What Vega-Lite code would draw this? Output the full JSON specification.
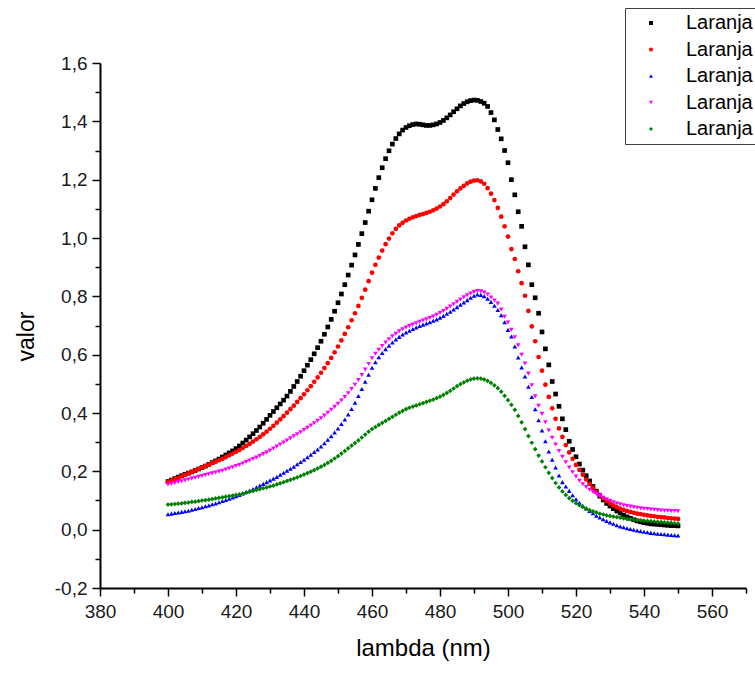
{
"$schema":"https://vega.github.io/schema/vega-lite/v6.json",
"autosize":{"type":"none"},
"width":646,"height":525,
"padding":{"left":100,"top":63,"right":9,"bottom":87},
"background":"white",
"config":{"view":{"stroke":null},"font":"Liberation Sans"},
"data":{"values":[
{"s":"Laranja 1","x":400,"y":0.165},{"s":"Laranja 1","x":401,"y":0.170},{"s":"Laranja 1","x":402,"y":0.175},{"s":"Laranja 1","x":403,"y":0.180},{"s":"Laranja 1","x":404,"y":0.185},{"s":"Laranja 1","x":405,"y":0.190},{"s":"Laranja 1","x":406,"y":0.194},{"s":"Laranja 1","x":407,"y":0.198},{"s":"Laranja 1","x":408,"y":0.203},{"s":"Laranja 1","x":409,"y":0.208},
{"s":"Laranja 1","x":410,"y":0.213},{"s":"Laranja 1","x":411,"y":0.218},{"s":"Laranja 1","x":412,"y":0.224},{"s":"Laranja 1","x":413,"y":0.230},{"s":"Laranja 1","x":414,"y":0.236},{"s":"Laranja 1","x":415,"y":0.242},{"s":"Laranja 1","x":416,"y":0.249},{"s":"Laranja 1","x":417,"y":0.256},{"s":"Laranja 1","x":418,"y":0.263},{"s":"Laranja 1","x":419,"y":0.270},
{"s":"Laranja 1","x":420,"y":0.278},{"s":"Laranja 1","x":421,"y":0.287},{"s":"Laranja 1","x":422,"y":0.297},{"s":"Laranja 1","x":423,"y":0.307},{"s":"Laranja 1","x":424,"y":0.318},{"s":"Laranja 1","x":425,"y":0.329},{"s":"Laranja 1","x":426,"y":0.340},{"s":"Laranja 1","x":427,"y":0.352},{"s":"Laranja 1","x":428,"y":0.365},{"s":"Laranja 1","x":429,"y":0.378},
{"s":"Laranja 1","x":430,"y":0.392},{"s":"Laranja 1","x":431,"y":0.405},{"s":"Laranja 1","x":432,"y":0.418},{"s":"Laranja 1","x":433,"y":0.431},{"s":"Laranja 1","x":434,"y":0.444},{"s":"Laranja 1","x":435,"y":0.458},{"s":"Laranja 1","x":436,"y":0.474},{"s":"Laranja 1","x":437,"y":0.491},{"s":"Laranja 1","x":438,"y":0.508},{"s":"Laranja 1","x":439,"y":0.526},
{"s":"Laranja 1","x":440,"y":0.545},{"s":"Laranja 1","x":441,"y":0.564},{"s":"Laranja 1","x":442,"y":0.583},{"s":"Laranja 1","x":443,"y":0.603},{"s":"Laranja 1","x":444,"y":0.624},{"s":"Laranja 1","x":445,"y":0.646},{"s":"Laranja 1","x":446,"y":0.670},{"s":"Laranja 1","x":447,"y":0.695},{"s":"Laranja 1","x":448,"y":0.721},{"s":"Laranja 1","x":449,"y":0.749},
{"s":"Laranja 1","x":450,"y":0.778},{"s":"Laranja 1","x":451,"y":0.808},{"s":"Laranja 1","x":452,"y":0.840},{"s":"Laranja 1","x":453,"y":0.873},{"s":"Laranja 1","x":454,"y":0.907},{"s":"Laranja 1","x":455,"y":0.942},{"s":"Laranja 1","x":456,"y":0.978},{"s":"Laranja 1","x":457,"y":1.015},{"s":"Laranja 1","x":458,"y":1.053},{"s":"Laranja 1","x":459,"y":1.092},
{"s":"Laranja 1","x":460,"y":1.131},{"s":"Laranja 1","x":461,"y":1.170},{"s":"Laranja 1","x":462,"y":1.207},{"s":"Laranja 1","x":463,"y":1.241},{"s":"Laranja 1","x":464,"y":1.272},{"s":"Laranja 1","x":465,"y":1.299},{"s":"Laranja 1","x":466,"y":1.322},{"s":"Laranja 1","x":467,"y":1.341},{"s":"Laranja 1","x":468,"y":1.357},{"s":"Laranja 1","x":469,"y":1.370},
{"s":"Laranja 1","x":470,"y":1.379},{"s":"Laranja 1","x":471,"y":1.385},{"s":"Laranja 1","x":472,"y":1.389},{"s":"Laranja 1","x":473,"y":1.391},{"s":"Laranja 1","x":474,"y":1.390},{"s":"Laranja 1","x":475,"y":1.388},{"s":"Laranja 1","x":476,"y":1.386},{"s":"Laranja 1","x":477,"y":1.386},{"s":"Laranja 1","x":478,"y":1.388},{"s":"Laranja 1","x":479,"y":1.391},
{"s":"Laranja 1","x":480,"y":1.396},{"s":"Laranja 1","x":481,"y":1.403},{"s":"Laranja 1","x":482,"y":1.412},{"s":"Laranja 1","x":483,"y":1.422},{"s":"Laranja 1","x":484,"y":1.433},{"s":"Laranja 1","x":485,"y":1.443},{"s":"Laranja 1","x":486,"y":1.453},{"s":"Laranja 1","x":487,"y":1.461},{"s":"Laranja 1","x":488,"y":1.467},{"s":"Laranja 1","x":489,"y":1.471},
{"s":"Laranja 1","x":490,"y":1.473},{"s":"Laranja 1","x":491,"y":1.472},{"s":"Laranja 1","x":492,"y":1.468},{"s":"Laranja 1","x":493,"y":1.462},{"s":"Laranja 1","x":494,"y":1.451},{"s":"Laranja 1","x":495,"y":1.430},{"s":"Laranja 1","x":496,"y":1.405},{"s":"Laranja 1","x":497,"y":1.372},{"s":"Laranja 1","x":498,"y":1.340},{"s":"Laranja 1","x":499,"y":1.300},
{"s":"Laranja 1","x":500,"y":1.258},{"s":"Laranja 1","x":501,"y":1.200},{"s":"Laranja 1","x":502,"y":1.148},{"s":"Laranja 1","x":503,"y":1.090},{"s":"Laranja 1","x":504,"y":1.040},{"s":"Laranja 1","x":505,"y":0.970},{"s":"Laranja 1","x":506,"y":0.908},{"s":"Laranja 1","x":507,"y":0.840},{"s":"Laranja 1","x":508,"y":0.795},{"s":"Laranja 1","x":509,"y":0.742},
{"s":"Laranja 1","x":510,"y":0.678},{"s":"Laranja 1","x":511,"y":0.620},{"s":"Laranja 1","x":512,"y":0.565},{"s":"Laranja 1","x":513,"y":0.508},{"s":"Laranja 1","x":514,"y":0.465},{"s":"Laranja 1","x":515,"y":0.423},{"s":"Laranja 1","x":516,"y":0.380},{"s":"Laranja 1","x":517,"y":0.343},{"s":"Laranja 1","x":518,"y":0.303},{"s":"Laranja 1","x":519,"y":0.275},
{"s":"Laranja 1","x":520,"y":0.250},{"s":"Laranja 1","x":521,"y":0.225},{"s":"Laranja 1","x":522,"y":0.204},{"s":"Laranja 1","x":523,"y":0.185},{"s":"Laranja 1","x":524,"y":0.167},{"s":"Laranja 1","x":525,"y":0.148},{"s":"Laranja 1","x":526,"y":0.132},{"s":"Laranja 1","x":527,"y":0.115},{"s":"Laranja 1","x":528,"y":0.102},{"s":"Laranja 1","x":529,"y":0.090},
{"s":"Laranja 1","x":530,"y":0.081},{"s":"Laranja 1","x":531,"y":0.072},{"s":"Laranja 1","x":532,"y":0.064},{"s":"Laranja 1","x":533,"y":0.057},{"s":"Laranja 1","x":534,"y":0.050},{"s":"Laranja 1","x":535,"y":0.044},{"s":"Laranja 1","x":536,"y":0.039},{"s":"Laranja 1","x":537,"y":0.034},{"s":"Laranja 1","x":538,"y":0.030},{"s":"Laranja 1","x":539,"y":0.027},
{"s":"Laranja 1","x":540,"y":0.024},{"s":"Laranja 1","x":541,"y":0.022},{"s":"Laranja 1","x":542,"y":0.020},{"s":"Laranja 1","x":543,"y":0.019},{"s":"Laranja 1","x":544,"y":0.018},{"s":"Laranja 1","x":545,"y":0.017},{"s":"Laranja 1","x":546,"y":0.016},{"s":"Laranja 1","x":547,"y":0.015},{"s":"Laranja 1","x":548,"y":0.014},{"s":"Laranja 1","x":549,"y":0.014},{"s":"Laranja 1","x":550,"y":0.013},
{"s":"Laranja 2","x":400,"y":0.163},{"s":"Laranja 2","x":401,"y":0.168},{"s":"Laranja 2","x":402,"y":0.173},{"s":"Laranja 2","x":403,"y":0.178},{"s":"Laranja 2","x":404,"y":0.183},{"s":"Laranja 2","x":405,"y":0.188},{"s":"Laranja 2","x":406,"y":0.193},{"s":"Laranja 2","x":407,"y":0.198},{"s":"Laranja 2","x":408,"y":0.203},{"s":"Laranja 2","x":409,"y":0.208},
{"s":"Laranja 2","x":410,"y":0.213},{"s":"Laranja 2","x":411,"y":0.218},{"s":"Laranja 2","x":412,"y":0.223},{"s":"Laranja 2","x":413,"y":0.228},{"s":"Laranja 2","x":414,"y":0.233},{"s":"Laranja 2","x":415,"y":0.238},{"s":"Laranja 2","x":416,"y":0.243},{"s":"Laranja 2","x":417,"y":0.249},{"s":"Laranja 2","x":418,"y":0.255},{"s":"Laranja 2","x":419,"y":0.261},
{"s":"Laranja 2","x":420,"y":0.267},{"s":"Laranja 2","x":421,"y":0.273},{"s":"Laranja 2","x":422,"y":0.280},{"s":"Laranja 2","x":423,"y":0.287},{"s":"Laranja 2","x":424,"y":0.294},{"s":"Laranja 2","x":425,"y":0.302},{"s":"Laranja 2","x":426,"y":0.310},{"s":"Laranja 2","x":427,"y":0.318},{"s":"Laranja 2","x":428,"y":0.327},{"s":"Laranja 2","x":429,"y":0.336},
{"s":"Laranja 2","x":430,"y":0.346},{"s":"Laranja 2","x":431,"y":0.356},{"s":"Laranja 2","x":432,"y":0.367},{"s":"Laranja 2","x":433,"y":0.378},{"s":"Laranja 2","x":434,"y":0.389},{"s":"Laranja 2","x":435,"y":0.401},{"s":"Laranja 2","x":436,"y":0.413},{"s":"Laranja 2","x":437,"y":0.425},{"s":"Laranja 2","x":438,"y":0.438},{"s":"Laranja 2","x":439,"y":0.451},
{"s":"Laranja 2","x":440,"y":0.464},{"s":"Laranja 2","x":441,"y":0.478},{"s":"Laranja 2","x":442,"y":0.492},{"s":"Laranja 2","x":443,"y":0.507},{"s":"Laranja 2","x":444,"y":0.522},{"s":"Laranja 2","x":445,"y":0.538},{"s":"Laranja 2","x":446,"y":0.554},{"s":"Laranja 2","x":447,"y":0.571},{"s":"Laranja 2","x":448,"y":0.589},{"s":"Laranja 2","x":449,"y":0.608},
{"s":"Laranja 2","x":450,"y":0.628},{"s":"Laranja 2","x":451,"y":0.649},{"s":"Laranja 2","x":452,"y":0.671},{"s":"Laranja 2","x":453,"y":0.694},{"s":"Laranja 2","x":454,"y":0.718},{"s":"Laranja 2","x":455,"y":0.742},{"s":"Laranja 2","x":456,"y":0.767},{"s":"Laranja 2","x":457,"y":0.795},{"s":"Laranja 2","x":458,"y":0.823},{"s":"Laranja 2","x":459,"y":0.852},
{"s":"Laranja 2","x":460,"y":0.881},{"s":"Laranja 2","x":461,"y":0.908},{"s":"Laranja 2","x":462,"y":0.933},{"s":"Laranja 2","x":463,"y":0.957},{"s":"Laranja 2","x":464,"y":0.979},{"s":"Laranja 2","x":465,"y":0.998},{"s":"Laranja 2","x":466,"y":1.016},{"s":"Laranja 2","x":467,"y":1.031},{"s":"Laranja 2","x":468,"y":1.043},{"s":"Laranja 2","x":469,"y":1.052},
{"s":"Laranja 2","x":470,"y":1.060},{"s":"Laranja 2","x":471,"y":1.066},{"s":"Laranja 2","x":472,"y":1.071},{"s":"Laranja 2","x":473,"y":1.075},{"s":"Laranja 2","x":474,"y":1.079},{"s":"Laranja 2","x":475,"y":1.082},{"s":"Laranja 2","x":476,"y":1.086},{"s":"Laranja 2","x":477,"y":1.090},{"s":"Laranja 2","x":478,"y":1.095},{"s":"Laranja 2","x":479,"y":1.101},
{"s":"Laranja 2","x":480,"y":1.108},{"s":"Laranja 2","x":481,"y":1.116},{"s":"Laranja 2","x":482,"y":1.126},{"s":"Laranja 2","x":483,"y":1.137},{"s":"Laranja 2","x":484,"y":1.149},{"s":"Laranja 2","x":485,"y":1.160},{"s":"Laranja 2","x":486,"y":1.170},{"s":"Laranja 2","x":487,"y":1.179},{"s":"Laranja 2","x":488,"y":1.187},{"s":"Laranja 2","x":489,"y":1.193},
{"s":"Laranja 2","x":490,"y":1.197},{"s":"Laranja 2","x":491,"y":1.198},{"s":"Laranja 2","x":492,"y":1.194},{"s":"Laranja 2","x":493,"y":1.186},{"s":"Laranja 2","x":494,"y":1.171},{"s":"Laranja 2","x":495,"y":1.152},{"s":"Laranja 2","x":496,"y":1.130},{"s":"Laranja 2","x":497,"y":1.103},{"s":"Laranja 2","x":498,"y":1.073},{"s":"Laranja 2","x":499,"y":1.040},
{"s":"Laranja 2","x":500,"y":1.005},{"s":"Laranja 2","x":501,"y":0.962},{"s":"Laranja 2","x":502,"y":0.928},{"s":"Laranja 2","x":503,"y":0.886},{"s":"Laranja 2","x":504,"y":0.845},{"s":"Laranja 2","x":505,"y":0.802},{"s":"Laranja 2","x":506,"y":0.750},{"s":"Laranja 2","x":507,"y":0.697},{"s":"Laranja 2","x":508,"y":0.646},{"s":"Laranja 2","x":509,"y":0.592},
{"s":"Laranja 2","x":510,"y":0.545},{"s":"Laranja 2","x":511,"y":0.497},{"s":"Laranja 2","x":512,"y":0.455},{"s":"Laranja 2","x":513,"y":0.416},{"s":"Laranja 2","x":514,"y":0.380},{"s":"Laranja 2","x":515,"y":0.347},{"s":"Laranja 2","x":516,"y":0.318},{"s":"Laranja 2","x":517,"y":0.290},{"s":"Laranja 2","x":518,"y":0.265},{"s":"Laranja 2","x":519,"y":0.243},
{"s":"Laranja 2","x":520,"y":0.222},{"s":"Laranja 2","x":521,"y":0.205},{"s":"Laranja 2","x":522,"y":0.188},{"s":"Laranja 2","x":523,"y":0.172},{"s":"Laranja 2","x":524,"y":0.157},{"s":"Laranja 2","x":525,"y":0.143},{"s":"Laranja 2","x":526,"y":0.130},{"s":"Laranja 2","x":527,"y":0.119},{"s":"Laranja 2","x":528,"y":0.108},{"s":"Laranja 2","x":529,"y":0.098},
{"s":"Laranja 2","x":530,"y":0.090},{"s":"Laranja 2","x":531,"y":0.083},{"s":"Laranja 2","x":532,"y":0.077},{"s":"Laranja 2","x":533,"y":0.072},{"s":"Laranja 2","x":534,"y":0.068},{"s":"Laranja 2","x":535,"y":0.064},{"s":"Laranja 2","x":536,"y":0.061},{"s":"Laranja 2","x":537,"y":0.058},{"s":"Laranja 2","x":538,"y":0.055},{"s":"Laranja 2","x":539,"y":0.053},
{"s":"Laranja 2","x":540,"y":0.051},{"s":"Laranja 2","x":541,"y":0.049},{"s":"Laranja 2","x":542,"y":0.047},{"s":"Laranja 2","x":543,"y":0.046},{"s":"Laranja 2","x":544,"y":0.044},{"s":"Laranja 2","x":545,"y":0.043},{"s":"Laranja 2","x":546,"y":0.042},{"s":"Laranja 2","x":547,"y":0.040},{"s":"Laranja 2","x":548,"y":0.039},{"s":"Laranja 2","x":549,"y":0.038},{"s":"Laranja 2","x":550,"y":0.037},
{"s":"Laranja 3","x":400,"y":0.053},{"s":"Laranja 3","x":401,"y":0.055},{"s":"Laranja 3","x":402,"y":0.057},{"s":"Laranja 3","x":403,"y":0.059},{"s":"Laranja 3","x":404,"y":0.061},{"s":"Laranja 3","x":405,"y":0.063},{"s":"Laranja 3","x":406,"y":0.065},{"s":"Laranja 3","x":407,"y":0.068},{"s":"Laranja 3","x":408,"y":0.071},{"s":"Laranja 3","x":409,"y":0.074},
{"s":"Laranja 3","x":410,"y":0.077},{"s":"Laranja 3","x":411,"y":0.080},{"s":"Laranja 3","x":412,"y":0.083},{"s":"Laranja 3","x":413,"y":0.087},{"s":"Laranja 3","x":414,"y":0.090},{"s":"Laranja 3","x":415,"y":0.094},{"s":"Laranja 3","x":416,"y":0.098},{"s":"Laranja 3","x":417,"y":0.102},{"s":"Laranja 3","x":418,"y":0.106},{"s":"Laranja 3","x":419,"y":0.110},
{"s":"Laranja 3","x":420,"y":0.115},{"s":"Laranja 3","x":421,"y":0.119},{"s":"Laranja 3","x":422,"y":0.124},{"s":"Laranja 3","x":423,"y":0.129},{"s":"Laranja 3","x":424,"y":0.134},{"s":"Laranja 3","x":425,"y":0.139},{"s":"Laranja 3","x":426,"y":0.145},{"s":"Laranja 3","x":427,"y":0.151},{"s":"Laranja 3","x":428,"y":0.157},{"s":"Laranja 3","x":429,"y":0.163},
{"s":"Laranja 3","x":430,"y":0.169},{"s":"Laranja 3","x":431,"y":0.175},{"s":"Laranja 3","x":432,"y":0.181},{"s":"Laranja 3","x":433,"y":0.188},{"s":"Laranja 3","x":434,"y":0.195},{"s":"Laranja 3","x":435,"y":0.202},{"s":"Laranja 3","x":436,"y":0.209},{"s":"Laranja 3","x":437,"y":0.216},{"s":"Laranja 3","x":438,"y":0.224},{"s":"Laranja 3","x":439,"y":0.232},
{"s":"Laranja 3","x":440,"y":0.240},{"s":"Laranja 3","x":441,"y":0.248},{"s":"Laranja 3","x":442,"y":0.257},{"s":"Laranja 3","x":443,"y":0.266},{"s":"Laranja 3","x":444,"y":0.275},{"s":"Laranja 3","x":445,"y":0.285},{"s":"Laranja 3","x":446,"y":0.296},{"s":"Laranja 3","x":447,"y":0.308},{"s":"Laranja 3","x":448,"y":0.320},{"s":"Laranja 3","x":449,"y":0.333},
{"s":"Laranja 3","x":450,"y":0.347},{"s":"Laranja 3","x":451,"y":0.362},{"s":"Laranja 3","x":452,"y":0.378},{"s":"Laranja 3","x":453,"y":0.395},{"s":"Laranja 3","x":454,"y":0.414},{"s":"Laranja 3","x":455,"y":0.435},{"s":"Laranja 3","x":456,"y":0.458},{"s":"Laranja 3","x":457,"y":0.482},{"s":"Laranja 3","x":458,"y":0.507},{"s":"Laranja 3","x":459,"y":0.531},
{"s":"Laranja 3","x":460,"y":0.555},{"s":"Laranja 3","x":461,"y":0.574},{"s":"Laranja 3","x":462,"y":0.591},{"s":"Laranja 3","x":463,"y":0.606},{"s":"Laranja 3","x":464,"y":0.619},{"s":"Laranja 3","x":465,"y":0.631},{"s":"Laranja 3","x":466,"y":0.642},{"s":"Laranja 3","x":467,"y":0.652},{"s":"Laranja 3","x":468,"y":0.661},{"s":"Laranja 3","x":469,"y":0.669},
{"s":"Laranja 3","x":470,"y":0.676},{"s":"Laranja 3","x":471,"y":0.682},{"s":"Laranja 3","x":472,"y":0.688},{"s":"Laranja 3","x":473,"y":0.693},{"s":"Laranja 3","x":474,"y":0.698},{"s":"Laranja 3","x":475,"y":0.703},{"s":"Laranja 3","x":476,"y":0.707},{"s":"Laranja 3","x":477,"y":0.711},{"s":"Laranja 3","x":478,"y":0.716},{"s":"Laranja 3","x":479,"y":0.721},
{"s":"Laranja 3","x":480,"y":0.727},{"s":"Laranja 3","x":481,"y":0.733},{"s":"Laranja 3","x":482,"y":0.740},{"s":"Laranja 3","x":483,"y":0.747},{"s":"Laranja 3","x":484,"y":0.755},{"s":"Laranja 3","x":485,"y":0.763},{"s":"Laranja 3","x":486,"y":0.771},{"s":"Laranja 3","x":487,"y":0.779},{"s":"Laranja 3","x":488,"y":0.787},{"s":"Laranja 3","x":489,"y":0.795},
{"s":"Laranja 3","x":490,"y":0.802},{"s":"Laranja 3","x":491,"y":0.806},{"s":"Laranja 3","x":492,"y":0.805},{"s":"Laranja 3","x":493,"y":0.800},{"s":"Laranja 3","x":494,"y":0.792},{"s":"Laranja 3","x":495,"y":0.781},{"s":"Laranja 3","x":496,"y":0.768},{"s":"Laranja 3","x":497,"y":0.753},{"s":"Laranja 3","x":498,"y":0.735},{"s":"Laranja 3","x":499,"y":0.711},
{"s":"Laranja 3","x":500,"y":0.685},{"s":"Laranja 3","x":501,"y":0.662},{"s":"Laranja 3","x":502,"y":0.628},{"s":"Laranja 3","x":503,"y":0.590},{"s":"Laranja 3","x":504,"y":0.556},{"s":"Laranja 3","x":505,"y":0.525},{"s":"Laranja 3","x":506,"y":0.490},{"s":"Laranja 3","x":507,"y":0.455},{"s":"Laranja 3","x":508,"y":0.413},{"s":"Laranja 3","x":509,"y":0.375},
{"s":"Laranja 3","x":510,"y":0.340},{"s":"Laranja 3","x":511,"y":0.303},{"s":"Laranja 3","x":512,"y":0.268},{"s":"Laranja 3","x":513,"y":0.240},{"s":"Laranja 3","x":514,"y":0.213},{"s":"Laranja 3","x":515,"y":0.186},{"s":"Laranja 3","x":516,"y":0.163},{"s":"Laranja 3","x":517,"y":0.148},{"s":"Laranja 3","x":518,"y":0.133},{"s":"Laranja 3","x":519,"y":0.118},
{"s":"Laranja 3","x":520,"y":0.104},{"s":"Laranja 3","x":521,"y":0.092},{"s":"Laranja 3","x":522,"y":0.082},{"s":"Laranja 3","x":523,"y":0.073},{"s":"Laranja 3","x":524,"y":0.064},{"s":"Laranja 3","x":525,"y":0.056},{"s":"Laranja 3","x":526,"y":0.048},{"s":"Laranja 3","x":527,"y":0.042},{"s":"Laranja 3","x":528,"y":0.036},{"s":"Laranja 3","x":529,"y":0.030},
{"s":"Laranja 3","x":530,"y":0.025},{"s":"Laranja 3","x":531,"y":0.020},{"s":"Laranja 3","x":532,"y":0.015},{"s":"Laranja 3","x":533,"y":0.011},{"s":"Laranja 3","x":534,"y":0.008},{"s":"Laranja 3","x":535,"y":0.005},{"s":"Laranja 3","x":536,"y":0.002},{"s":"Laranja 3","x":537,"y":0.000},{"s":"Laranja 3","x":538,"y":-0.003},{"s":"Laranja 3","x":539,"y":-0.005},
{"s":"Laranja 3","x":540,"y":-0.007},{"s":"Laranja 3","x":541,"y":-0.009},{"s":"Laranja 3","x":542,"y":-0.011},{"s":"Laranja 3","x":543,"y":-0.012},{"s":"Laranja 3","x":544,"y":-0.014},{"s":"Laranja 3","x":545,"y":-0.015},{"s":"Laranja 3","x":546,"y":-0.016},{"s":"Laranja 3","x":547,"y":-0.017},{"s":"Laranja 3","x":548,"y":-0.018},{"s":"Laranja 3","x":549,"y":-0.019},{"s":"Laranja 3","x":550,"y":-0.020},
{"s":"Laranja 4","x":400,"y":0.155},{"s":"Laranja 4","x":401,"y":0.157},{"s":"Laranja 4","x":402,"y":0.160},{"s":"Laranja 4","x":403,"y":0.163},{"s":"Laranja 4","x":404,"y":0.166},{"s":"Laranja 4","x":405,"y":0.169},{"s":"Laranja 4","x":406,"y":0.172},{"s":"Laranja 4","x":407,"y":0.175},{"s":"Laranja 4","x":408,"y":0.178},{"s":"Laranja 4","x":409,"y":0.181},
{"s":"Laranja 4","x":410,"y":0.184},{"s":"Laranja 4","x":411,"y":0.187},{"s":"Laranja 4","x":412,"y":0.190},{"s":"Laranja 4","x":413,"y":0.193},{"s":"Laranja 4","x":414,"y":0.196},{"s":"Laranja 4","x":415,"y":0.199},{"s":"Laranja 4","x":416,"y":0.202},{"s":"Laranja 4","x":417,"y":0.206},{"s":"Laranja 4","x":418,"y":0.210},{"s":"Laranja 4","x":419,"y":0.214},
{"s":"Laranja 4","x":420,"y":0.218},{"s":"Laranja 4","x":421,"y":0.222},{"s":"Laranja 4","x":422,"y":0.227},{"s":"Laranja 4","x":423,"y":0.232},{"s":"Laranja 4","x":424,"y":0.237},{"s":"Laranja 4","x":425,"y":0.242},{"s":"Laranja 4","x":426,"y":0.247},{"s":"Laranja 4","x":427,"y":0.253},{"s":"Laranja 4","x":428,"y":0.259},{"s":"Laranja 4","x":429,"y":0.265},
{"s":"Laranja 4","x":430,"y":0.271},{"s":"Laranja 4","x":431,"y":0.278},{"s":"Laranja 4","x":432,"y":0.285},{"s":"Laranja 4","x":433,"y":0.292},{"s":"Laranja 4","x":434,"y":0.299},{"s":"Laranja 4","x":435,"y":0.306},{"s":"Laranja 4","x":436,"y":0.313},{"s":"Laranja 4","x":437,"y":0.320},{"s":"Laranja 4","x":438,"y":0.327},{"s":"Laranja 4","x":439,"y":0.334},
{"s":"Laranja 4","x":440,"y":0.342},{"s":"Laranja 4","x":441,"y":0.349},{"s":"Laranja 4","x":442,"y":0.357},{"s":"Laranja 4","x":443,"y":0.365},{"s":"Laranja 4","x":444,"y":0.373},{"s":"Laranja 4","x":445,"y":0.382},{"s":"Laranja 4","x":446,"y":0.391},{"s":"Laranja 4","x":447,"y":0.401},{"s":"Laranja 4","x":448,"y":0.411},{"s":"Laranja 4","x":449,"y":0.421},
{"s":"Laranja 4","x":450,"y":0.432},{"s":"Laranja 4","x":451,"y":0.443},{"s":"Laranja 4","x":452,"y":0.455},{"s":"Laranja 4","x":453,"y":0.468},{"s":"Laranja 4","x":454,"y":0.482},{"s":"Laranja 4","x":455,"y":0.497},{"s":"Laranja 4","x":456,"y":0.513},{"s":"Laranja 4","x":457,"y":0.530},{"s":"Laranja 4","x":458,"y":0.549},{"s":"Laranja 4","x":459,"y":0.568},
{"s":"Laranja 4","x":460,"y":0.588},{"s":"Laranja 4","x":461,"y":0.603},{"s":"Laranja 4","x":462,"y":0.617},{"s":"Laranja 4","x":463,"y":0.630},{"s":"Laranja 4","x":464,"y":0.642},{"s":"Laranja 4","x":465,"y":0.653},{"s":"Laranja 4","x":466,"y":0.663},{"s":"Laranja 4","x":467,"y":0.672},{"s":"Laranja 4","x":468,"y":0.680},{"s":"Laranja 4","x":469,"y":0.687},
{"s":"Laranja 4","x":470,"y":0.693},{"s":"Laranja 4","x":471,"y":0.698},{"s":"Laranja 4","x":472,"y":0.703},{"s":"Laranja 4","x":473,"y":0.708},{"s":"Laranja 4","x":474,"y":0.713},{"s":"Laranja 4","x":475,"y":0.717},{"s":"Laranja 4","x":476,"y":0.721},{"s":"Laranja 4","x":477,"y":0.726},{"s":"Laranja 4","x":478,"y":0.731},{"s":"Laranja 4","x":479,"y":0.737},
{"s":"Laranja 4","x":480,"y":0.743},{"s":"Laranja 4","x":481,"y":0.750},{"s":"Laranja 4","x":482,"y":0.757},{"s":"Laranja 4","x":483,"y":0.765},{"s":"Laranja 4","x":484,"y":0.773},{"s":"Laranja 4","x":485,"y":0.781},{"s":"Laranja 4","x":486,"y":0.789},{"s":"Laranja 4","x":487,"y":0.797},{"s":"Laranja 4","x":488,"y":0.804},{"s":"Laranja 4","x":489,"y":0.810},
{"s":"Laranja 4","x":490,"y":0.815},{"s":"Laranja 4","x":491,"y":0.818},{"s":"Laranja 4","x":492,"y":0.817},{"s":"Laranja 4","x":493,"y":0.813},{"s":"Laranja 4","x":494,"y":0.806},{"s":"Laranja 4","x":495,"y":0.796},{"s":"Laranja 4","x":496,"y":0.786},{"s":"Laranja 4","x":497,"y":0.775},{"s":"Laranja 4","x":498,"y":0.755},{"s":"Laranja 4","x":499,"y":0.730},
{"s":"Laranja 4","x":500,"y":0.710},{"s":"Laranja 4","x":501,"y":0.685},{"s":"Laranja 4","x":502,"y":0.660},{"s":"Laranja 4","x":503,"y":0.632},{"s":"Laranja 4","x":504,"y":0.600},{"s":"Laranja 4","x":505,"y":0.570},{"s":"Laranja 4","x":506,"y":0.535},{"s":"Laranja 4","x":507,"y":0.495},{"s":"Laranja 4","x":508,"y":0.457},{"s":"Laranja 4","x":509,"y":0.425},
{"s":"Laranja 4","x":510,"y":0.397},{"s":"Laranja 4","x":511,"y":0.368},{"s":"Laranja 4","x":512,"y":0.340},{"s":"Laranja 4","x":513,"y":0.315},{"s":"Laranja 4","x":514,"y":0.292},{"s":"Laranja 4","x":515,"y":0.270},{"s":"Laranja 4","x":516,"y":0.250},{"s":"Laranja 4","x":517,"y":0.231},{"s":"Laranja 4","x":518,"y":0.213},{"s":"Laranja 4","x":519,"y":0.197},
{"s":"Laranja 4","x":520,"y":0.182},{"s":"Laranja 4","x":521,"y":0.168},{"s":"Laranja 4","x":522,"y":0.156},{"s":"Laranja 4","x":523,"y":0.146},{"s":"Laranja 4","x":524,"y":0.137},{"s":"Laranja 4","x":525,"y":0.129},{"s":"Laranja 4","x":526,"y":0.122},{"s":"Laranja 4","x":527,"y":0.115},{"s":"Laranja 4","x":528,"y":0.109},{"s":"Laranja 4","x":529,"y":0.104},
{"s":"Laranja 4","x":530,"y":0.099},{"s":"Laranja 4","x":531,"y":0.094},{"s":"Laranja 4","x":532,"y":0.090},{"s":"Laranja 4","x":533,"y":0.087},{"s":"Laranja 4","x":534,"y":0.084},{"s":"Laranja 4","x":535,"y":0.081},{"s":"Laranja 4","x":536,"y":0.079},{"s":"Laranja 4","x":537,"y":0.077},{"s":"Laranja 4","x":538,"y":0.075},{"s":"Laranja 4","x":539,"y":0.073},
{"s":"Laranja 4","x":540,"y":0.072},{"s":"Laranja 4","x":541,"y":0.071},{"s":"Laranja 4","x":542,"y":0.069},{"s":"Laranja 4","x":543,"y":0.068},{"s":"Laranja 4","x":544,"y":0.067},{"s":"Laranja 4","x":545,"y":0.066},{"s":"Laranja 4","x":546,"y":0.065},{"s":"Laranja 4","x":547,"y":0.065},{"s":"Laranja 4","x":548,"y":0.064},{"s":"Laranja 4","x":549,"y":0.064},{"s":"Laranja 4","x":550,"y":0.063},
{"s":"Laranja 5","x":400,"y":0.086},{"s":"Laranja 5","x":401,"y":0.087},{"s":"Laranja 5","x":402,"y":0.088},{"s":"Laranja 5","x":403,"y":0.089},{"s":"Laranja 5","x":404,"y":0.090},{"s":"Laranja 5","x":405,"y":0.092},{"s":"Laranja 5","x":406,"y":0.093},{"s":"Laranja 5","x":407,"y":0.095},{"s":"Laranja 5","x":408,"y":0.096},{"s":"Laranja 5","x":409,"y":0.098},
{"s":"Laranja 5","x":410,"y":0.100},{"s":"Laranja 5","x":411,"y":0.101},{"s":"Laranja 5","x":412,"y":0.103},{"s":"Laranja 5","x":413,"y":0.105},{"s":"Laranja 5","x":414,"y":0.107},{"s":"Laranja 5","x":415,"y":0.109},{"s":"Laranja 5","x":416,"y":0.111},{"s":"Laranja 5","x":417,"y":0.113},{"s":"Laranja 5","x":418,"y":0.115},{"s":"Laranja 5","x":419,"y":0.117},
{"s":"Laranja 5","x":420,"y":0.119},{"s":"Laranja 5","x":421,"y":0.121},{"s":"Laranja 5","x":422,"y":0.124},{"s":"Laranja 5","x":423,"y":0.127},{"s":"Laranja 5","x":424,"y":0.130},{"s":"Laranja 5","x":425,"y":0.133},{"s":"Laranja 5","x":426,"y":0.136},{"s":"Laranja 5","x":427,"y":0.139},{"s":"Laranja 5","x":428,"y":0.142},{"s":"Laranja 5","x":429,"y":0.145},
{"s":"Laranja 5","x":430,"y":0.148},{"s":"Laranja 5","x":431,"y":0.151},{"s":"Laranja 5","x":432,"y":0.155},{"s":"Laranja 5","x":433,"y":0.159},{"s":"Laranja 5","x":434,"y":0.163},{"s":"Laranja 5","x":435,"y":0.167},{"s":"Laranja 5","x":436,"y":0.171},{"s":"Laranja 5","x":437,"y":0.175},{"s":"Laranja 5","x":438,"y":0.179},{"s":"Laranja 5","x":439,"y":0.184},
{"s":"Laranja 5","x":440,"y":0.189},{"s":"Laranja 5","x":441,"y":0.194},{"s":"Laranja 5","x":442,"y":0.199},{"s":"Laranja 5","x":443,"y":0.204},{"s":"Laranja 5","x":444,"y":0.210},{"s":"Laranja 5","x":445,"y":0.216},{"s":"Laranja 5","x":446,"y":0.222},{"s":"Laranja 5","x":447,"y":0.229},{"s":"Laranja 5","x":448,"y":0.236},{"s":"Laranja 5","x":449,"y":0.244},
{"s":"Laranja 5","x":450,"y":0.252},{"s":"Laranja 5","x":451,"y":0.261},{"s":"Laranja 5","x":452,"y":0.270},{"s":"Laranja 5","x":453,"y":0.279},{"s":"Laranja 5","x":454,"y":0.288},{"s":"Laranja 5","x":455,"y":0.297},{"s":"Laranja 5","x":456,"y":0.306},{"s":"Laranja 5","x":457,"y":0.316},{"s":"Laranja 5","x":458,"y":0.326},{"s":"Laranja 5","x":459,"y":0.336},
{"s":"Laranja 5","x":460,"y":0.345},{"s":"Laranja 5","x":461,"y":0.352},{"s":"Laranja 5","x":462,"y":0.359},{"s":"Laranja 5","x":463,"y":0.366},{"s":"Laranja 5","x":464,"y":0.373},{"s":"Laranja 5","x":465,"y":0.380},{"s":"Laranja 5","x":466,"y":0.387},{"s":"Laranja 5","x":467,"y":0.394},{"s":"Laranja 5","x":468,"y":0.401},{"s":"Laranja 5","x":469,"y":0.407},
{"s":"Laranja 5","x":470,"y":0.413},{"s":"Laranja 5","x":471,"y":0.418},{"s":"Laranja 5","x":472,"y":0.422},{"s":"Laranja 5","x":473,"y":0.426},{"s":"Laranja 5","x":474,"y":0.430},{"s":"Laranja 5","x":475,"y":0.434},{"s":"Laranja 5","x":476,"y":0.438},{"s":"Laranja 5","x":477,"y":0.442},{"s":"Laranja 5","x":478,"y":0.446},{"s":"Laranja 5","x":479,"y":0.451},
{"s":"Laranja 5","x":480,"y":0.456},{"s":"Laranja 5","x":481,"y":0.462},{"s":"Laranja 5","x":482,"y":0.469},{"s":"Laranja 5","x":483,"y":0.476},{"s":"Laranja 5","x":484,"y":0.484},{"s":"Laranja 5","x":485,"y":0.492},{"s":"Laranja 5","x":486,"y":0.499},{"s":"Laranja 5","x":487,"y":0.505},{"s":"Laranja 5","x":488,"y":0.511},{"s":"Laranja 5","x":489,"y":0.515},
{"s":"Laranja 5","x":490,"y":0.518},{"s":"Laranja 5","x":491,"y":0.519},{"s":"Laranja 5","x":492,"y":0.518},{"s":"Laranja 5","x":493,"y":0.515},{"s":"Laranja 5","x":494,"y":0.510},{"s":"Laranja 5","x":495,"y":0.503},{"s":"Laranja 5","x":496,"y":0.495},{"s":"Laranja 5","x":497,"y":0.485},{"s":"Laranja 5","x":498,"y":0.473},{"s":"Laranja 5","x":499,"y":0.459},
{"s":"Laranja 5","x":500,"y":0.444},{"s":"Laranja 5","x":501,"y":0.428},{"s":"Laranja 5","x":502,"y":0.411},{"s":"Laranja 5","x":503,"y":0.390},{"s":"Laranja 5","x":504,"y":0.368},{"s":"Laranja 5","x":505,"y":0.345},{"s":"Laranja 5","x":506,"y":0.321},{"s":"Laranja 5","x":507,"y":0.298},{"s":"Laranja 5","x":508,"y":0.276},{"s":"Laranja 5","x":509,"y":0.254},
{"s":"Laranja 5","x":510,"y":0.234},{"s":"Laranja 5","x":511,"y":0.214},{"s":"Laranja 5","x":512,"y":0.195},{"s":"Laranja 5","x":513,"y":0.177},{"s":"Laranja 5","x":514,"y":0.160},{"s":"Laranja 5","x":515,"y":0.145},{"s":"Laranja 5","x":516,"y":0.131},{"s":"Laranja 5","x":517,"y":0.119},{"s":"Laranja 5","x":518,"y":0.108},{"s":"Laranja 5","x":519,"y":0.099},
{"s":"Laranja 5","x":520,"y":0.091},{"s":"Laranja 5","x":521,"y":0.084},{"s":"Laranja 5","x":522,"y":0.078},{"s":"Laranja 5","x":523,"y":0.072},{"s":"Laranja 5","x":524,"y":0.067},{"s":"Laranja 5","x":525,"y":0.063},{"s":"Laranja 5","x":526,"y":0.059},{"s":"Laranja 5","x":527,"y":0.055},{"s":"Laranja 5","x":528,"y":0.052},{"s":"Laranja 5","x":529,"y":0.049},
{"s":"Laranja 5","x":530,"y":0.047},{"s":"Laranja 5","x":531,"y":0.045},{"s":"Laranja 5","x":532,"y":0.043},{"s":"Laranja 5","x":533,"y":0.041},{"s":"Laranja 5","x":534,"y":0.039},{"s":"Laranja 5","x":535,"y":0.037},{"s":"Laranja 5","x":536,"y":0.036},{"s":"Laranja 5","x":537,"y":0.034},{"s":"Laranja 5","x":538,"y":0.033},{"s":"Laranja 5","x":539,"y":0.032},
{"s":"Laranja 5","x":540,"y":0.031},{"s":"Laranja 5","x":541,"y":0.030},{"s":"Laranja 5","x":542,"y":0.029},{"s":"Laranja 5","x":543,"y":0.028},{"s":"Laranja 5","x":544,"y":0.027},{"s":"Laranja 5","x":545,"y":0.026},{"s":"Laranja 5","x":546,"y":0.025},{"s":"Laranja 5","x":547,"y":0.024},{"s":"Laranja 5","x":548,"y":0.023},{"s":"Laranja 5","x":549,"y":0.022},{"s":"Laranja 5","x":550,"y":0.021}
]},
"mark":{"type":"point","filled":true,"size":22,"opacity":1},
"encoding":{
"x":{"field":"x","type":"quantitative","scale":{"domain":[380,570],"nice":false,"zero":false},
 "axis":{"title":"lambda (nm)","values":[380,390,400,410,420,430,440,450,460,470,480,490,500,510,520,530,540,550,560,570],
  "labelExpr":"datum.value % 20 === 0 ? datum.label : ''","grid":false,"labelFlush":false,"labelOverlap":false,
  "domainColor":"black","domainWidth":2,"tickColor":"black","tickWidth":1.5,
  "tickSize":{"condition":{"test":"datum.value % 20 === 0","value":8},"value":5},
  "labelFont":"Liberation Sans","labelFontSize":19,"labelColor":"#1a1a1a","labelPadding":6,
  "titleFont":"Liberation Sans","titleFontSize":24,"titleFontWeight":"normal","titleColor":"black","titlePadding":15}},
"y":{"field":"y","type":"quantitative","scale":{"domain":[-0.2,1.6],"nice":false,"zero":false},
 "axis":{"title":"valor","values":[-0.2,-0.1,0,0.1,0.2,0.3,0.4,0.5,0.6,0.7,0.8,0.9,1,1.1,1.2,1.3,1.4,1.5,1.6],
  "labelExpr":"abs(round(datum.value*10)) % 2 === 0 ? replace(replace(format(datum.value, '.1f'), '.', ','), '\u2212', '-') : ''","grid":false,"labelFlush":false,"labelOverlap":false,
  "domainColor":"black","domainWidth":2,"tickColor":"black","tickWidth":1.5,
  "tickSize":{"condition":{"test":"abs(round(datum.value*10)) % 2 === 0","value":8},"value":5},
  "labelFont":"Liberation Sans","labelFontSize":19,"labelColor":"#1a1a1a","labelPadding":5,
  "titleFont":"Liberation Sans","titleFontSize":23,"titleFontWeight":"normal","titleColor":"black","titlePadding":16,"titleY":273}},
"color":{"field":"s","type":"nominal","scale":{"domain":["Laranja 1","Laranja 2","Laranja 3","Laranja 4","Laranja 5"],"range":["#000000","#ff0000","#0000ff","#ff00ff","#008000"]},
 "legend":{"title":null,"orient":"none","legendX":525,"legendY":-55,"direction":"vertical",
  "strokeColor":"#404040","fillColor":"white","padding":5,"rowPadding":6.5,
  "symbolSize":16,"symbolOffset":11,"labelOffset":25,"labelFont":"Liberation Sans","labelFontSize":20,"labelColor":"black"}},
"shape":{"field":"s","type":"nominal","scale":{"domain":["Laranja 1","Laranja 2","Laranja 3","Laranja 4","Laranja 5"],"range":["square","circle","triangle-up","triangle-down","diamond"]},"legend":null}
}
}
